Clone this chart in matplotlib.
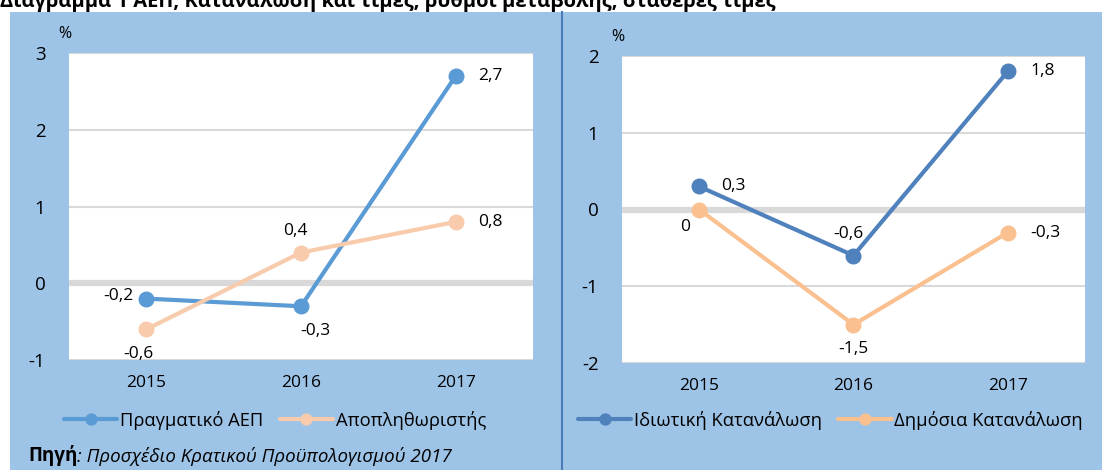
import matplotlib
matplotlib.use("Agg")
import matplotlib.pyplot as plt
from matplotlib.patches import Rectangle
from matplotlib.lines import Line2D

plt.rcParams['font.family'] = ['Open Sans', 'DejaVu Sans']

# data
years = ['2015', '2016', '2017']

gdp_real = [-0.2, -0.3, 2.7]
deflator = [-0.6, 0.4, 0.8]
private_cons = [0.3, -0.6, 1.8]
public_cons = [0.0, -1.5, -0.3]

left_names = ['Πραγματικό ΑΕΠ', 'Αποπληθωριστής']
right_names = ['Ιδιωτική Κατανάλωση', 'Δημόσια Κατανάλωση']

title = 'Διάγραμμα 1 ΑΕΠ, Κατανάλωση και τιμές, ρυθμοί μεταβολής, σταθερές τιμές'
source_bold = 'Πηγή'
source_rest = ': Προσχέδιο Κρατικού Προϋπολογισμού 2017'

# styling
BG = '#9DC3E6'
GRID = '#D9D9D9'
offsets = {'right': (16, 0, 'left', 'center'),
           'left': (-9, 2, 'right', 'center'),
           'above': (-4, 10, 'center', 'bottom'),
           'below': (0, -12, 'center', 'top'),
           'below_r': (10, -12, 'center', 'top'),
           'below_l': (-6, -12, 'center', 'top'),
           'below_ll': (-10, -7, 'center', 'top')}


def fmt(v):
    s = '{:.1f}'.format(v).replace('.', ',')
    if s == '0,0':
        s = '0'
    return s


def draw_panel(ax, series, colors, label_pos, ylim, names):
    ax.set_facecolor('white')
    x = list(range(len(years)))
    for vals, col, pos, name in zip(series, colors, label_pos, names):
        ax.plot(x, vals, color=col, lw=3, marker='o', ms=10.5, label=name,
                solid_capstyle='round', zorder=3)
        for xi, v, p in zip(x, vals, pos):
            dx, dy, ha, va = offsets[p]
            ax.annotate(fmt(v), (xi, v), xytext=(dx, dy), textcoords='offset points',
                        ha=ha, va=va, fontsize=12.5, color='black', zorder=4)
    ax.set_xlim(-0.5, len(years) - 0.5)
    ax.set_ylim(*ylim)
    ax.set_yticks(range(ylim[0], ylim[1] + 1))
    ax.set_yticklabels([str(t) for t in range(ylim[0], ylim[1] + 1)], fontsize=13.5)
    ax.set_xticks(x)
    ax.set_xticklabels(years, fontsize=12.5)
    for t in ax.get_yticks():
        ax.axhline(t, color=GRID, lw=4.5 if t == 0 else 1.5, zorder=1)
    for s in ax.spines.values():
        s.set_visible(False)
    ax.tick_params(axis='y', length=0, pad=17)
    ax.tick_params(axis='x', length=0, pad=11)
    ax.text(-0.01, 1.035, '%', transform=ax.transAxes, fontsize=11.5, ha='center', va='bottom')


fig = plt.figure(figsize=(11.02, 4.70), dpi=100)
fig.patch.set_facecolor('white')
fig.patches.append(Rectangle((10 / 1102, 0), 1, 1 - 12 / 470, transform=fig.transFigure,
                             facecolor=BG, edgecolor='none', zorder=-5))
fig.lines.append(Line2D([562 / 1102, 562 / 1102], [0, 1 - 12 / 470], transform=fig.transFigure,
                        color='#4A7EBB', lw=1.5, zorder=-4))

ax1 = fig.add_axes([69 / 1102, 110 / 470, 464 / 1102, 307 / 470])
ax2 = fig.add_axes([622 / 1102, 107 / 470, 463 / 1102, 307 / 470])

draw_panel(ax1, [gdp_real, deflator], ['#5B9BD5', '#F8CBAD'],
           [['left', 'below_r', 'right'], ['below_l', 'above', 'right']], (-1, 3), left_names)
draw_panel(ax2, [private_cons, public_cons], ['#4F81BD', '#FAC090'],
           [['right', 'above', 'right'], ['below_ll', 'below', 'right']], (-2, 2), right_names)

for ax, xpos in [(ax1, 64 / 1102), (ax2, 578 / 1102)]:
    ax.legend(loc='center left', bbox_to_anchor=(xpos, 50 / 470), bbox_transform=fig.transFigure,
              ncol=2, frameon=False, fontsize=13.2, handlelength=2.9, handletextpad=0.15,
              columnspacing=0.9, borderaxespad=0, borderpad=0, markerscale=0.75)

fig.text(0.0, 1 - 2 / 470, title, fontsize=14.5, fontweight='bold', ha='left', va='center')

t1 = fig.text(28 / 1102, 14 / 470, source_bold, fontsize=13.5, fontweight='bold',
              ha='left', va='center')
ax1.annotate(source_rest, xy=(1, 0.5), xycoords=t1, ha='left', va='center',
             fontsize=13.5, fontstyle='italic', annotation_clip=False)

fig.savefig('out.png', dpi=100, facecolor=fig.get_facecolor())
